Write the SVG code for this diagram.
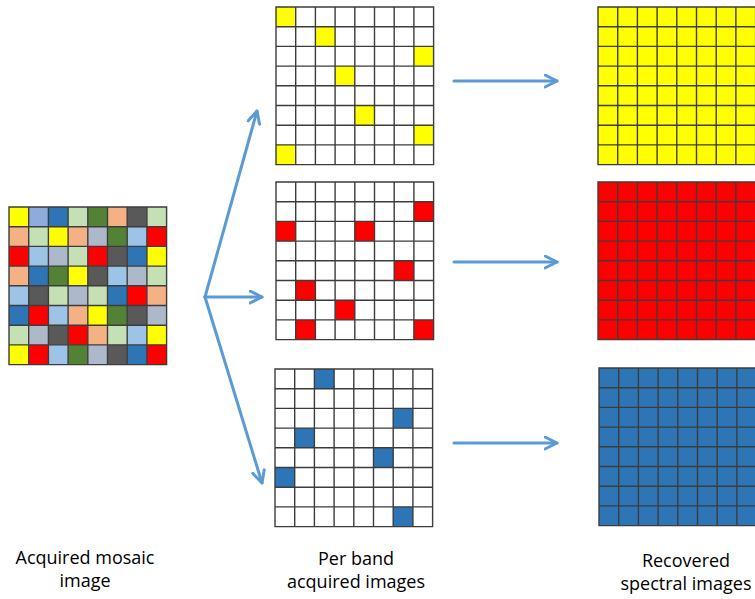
<svg xmlns="http://www.w3.org/2000/svg" xmlns:xlink="http://www.w3.org/1999/xlink" width="755" height="599" viewBox="0 0 755 599">
  <style>
    .grid { fill: none; stroke: #3c3c3c; stroke-width: 1.4; }
    .conn { fill: none; stroke: #5b9bd5; stroke-width: 3; stroke-linecap: round; }
    .label { font-family: "Open Sans", "Liberation Sans", sans-serif; font-size: 18px; fill: #000; text-anchor: middle; }
    .Y { fill: #ffff00; } .R { fill: #ff0000; } .B { fill: #2e75b6; }
    .G { fill: #548235; } .LG { fill: #c5e0b4; } .P { fill: #f4b183; }
    .D { fill: #595959; } .LB { fill: #9dc3e6; } .GB { fill: #adb9ca; } .L { fill: #8faadc; }
  </style>
  <defs>
    <!-- 8x8 grid lines, cell size 19.7 -->
    <path id="gridLines" class="grid" d="M0,0H157.6V157.6H0Z M19.7,0V157.6 M39.4,0V157.6 M59.1,0V157.6 M78.8,0V157.6 M98.5,0V157.6 M118.2,0V157.6 M137.9,0V157.6 M0,19.7H157.6 M0,39.4H157.6 M0,59.1H157.6 M0,78.8H157.6 M0,98.5H157.6 M0,118.2H157.6 M0,137.9H157.6"/>
    <rect id="c" width="19.7" height="19.7"/>
    <marker id="open" viewBox="0 0 10 10" refX="9" refY="5" markerWidth="5" markerHeight="5" orient="auto">
      <path d="M1,1 L9,5 L1,9" fill="none" stroke="#5b9bd5" stroke-width="2" stroke-linecap="round" stroke-linejoin="round"/>
    </marker>
  </defs>

  <!-- acquired mosaic image -->
  <g id="mosaic" transform="translate(9,207)">
    <use href="#c" class="Y" x="0" y="0"/><use href="#c" class="L" x="19.7" y="0"/><use href="#c" class="B" x="39.4" y="0"/><use href="#c" class="LG" x="59.1" y="0"/><use href="#c" class="G" x="78.8" y="0"/><use href="#c" class="P" x="98.5" y="0"/><use href="#c" class="D" x="118.2" y="0"/><use href="#c" class="LG" x="137.9" y="0"/>
    <use href="#c" class="P" x="0" y="19.7"/><use href="#c" class="LG" x="19.7" y="19.7"/><use href="#c" class="Y" x="39.4" y="19.7"/><use href="#c" class="P" x="59.1" y="19.7"/><use href="#c" class="GB" x="78.8" y="19.7"/><use href="#c" class="G" x="98.5" y="19.7"/><use href="#c" class="LB" x="118.2" y="19.7"/><use href="#c" class="R" x="137.9" y="19.7"/>
    <use href="#c" class="R" x="0" y="39.4"/><use href="#c" class="LB" x="19.7" y="39.4"/><use href="#c" class="GB" x="39.4" y="39.4"/><use href="#c" class="LG" x="59.1" y="39.4"/><use href="#c" class="R" x="78.8" y="39.4"/><use href="#c" class="D" x="98.5" y="39.4"/><use href="#c" class="B" x="118.2" y="39.4"/><use href="#c" class="Y" x="137.9" y="39.4"/>
    <use href="#c" class="P" x="0" y="59.1"/><use href="#c" class="B" x="19.7" y="59.1"/><use href="#c" class="G" x="39.4" y="59.1"/><use href="#c" class="Y" x="59.1" y="59.1"/><use href="#c" class="D" x="78.8" y="59.1"/><use href="#c" class="LB" x="98.5" y="59.1"/><use href="#c" class="GB" x="118.2" y="59.1"/><use href="#c" class="LG" x="137.9" y="59.1"/>
    <use href="#c" class="LB" x="0" y="78.8"/><use href="#c" class="D" x="19.7" y="78.8"/><use href="#c" class="LG" x="39.4" y="78.8"/><use href="#c" class="GB" x="59.1" y="78.8"/><use href="#c" class="LG" x="78.8" y="78.8"/><use href="#c" class="B" x="98.5" y="78.8"/><use href="#c" class="R" x="118.2" y="78.8"/><use href="#c" class="P" x="137.9" y="78.8"/>
    <use href="#c" class="B" x="0" y="98.5"/><use href="#c" class="R" x="19.7" y="98.5"/><use href="#c" class="LB" x="39.4" y="98.5"/><use href="#c" class="P" x="59.1" y="98.5"/><use href="#c" class="Y" x="78.8" y="98.5"/><use href="#c" class="G" x="98.5" y="98.5"/><use href="#c" class="D" x="118.2" y="98.5"/><use href="#c" class="GB" x="137.9" y="98.5"/>
    <use href="#c" class="LG" x="0" y="118.2"/><use href="#c" class="GB" x="19.7" y="118.2"/><use href="#c" class="D" x="39.4" y="118.2"/><use href="#c" class="R" x="59.1" y="118.2"/><use href="#c" class="P" x="78.8" y="118.2"/><use href="#c" class="LG" x="98.5" y="118.2"/><use href="#c" class="LB" x="118.2" y="118.2"/><use href="#c" class="Y" x="137.9" y="118.2"/>
    <use href="#c" class="Y" x="0" y="137.9"/><use href="#c" class="R" x="19.7" y="137.9"/><use href="#c" class="LB" x="39.4" y="137.9"/><use href="#c" class="G" x="59.1" y="137.9"/><use href="#c" class="GB" x="78.8" y="137.9"/><use href="#c" class="D" x="98.5" y="137.9"/><use href="#c" class="B" x="118.2" y="137.9"/><use href="#c" class="R" x="137.9" y="137.9"/>
    <use href="#gridLines"/>
  </g>

  <!-- per band acquired images -->
  <g id="band-yellow" transform="translate(276,7)">
    <rect width="157.6" height="157.6" fill="#fff"/>
    <use href="#c" class="Y" x="0" y="0"/><use href="#c" class="Y" x="39.4" y="19.7"/><use href="#c" class="Y" x="137.9" y="39.4"/><use href="#c" class="Y" x="59.1" y="59.1"/><use href="#c" class="Y" x="78.8" y="98.5"/><use href="#c" class="Y" x="137.9" y="118.2"/><use href="#c" class="Y" x="0" y="137.9"/>
    <use href="#gridLines"/>
  </g>
  <g id="band-red" transform="translate(276,182)">
    <rect width="157.6" height="157.6" fill="#fff"/>
    <use href="#c" class="R" x="137.9" y="19.7"/><use href="#c" class="R" x="0" y="39.4"/><use href="#c" class="R" x="78.8" y="39.4"/><use href="#c" class="R" x="118.2" y="78.8"/><use href="#c" class="R" x="19.7" y="98.5"/><use href="#c" class="R" x="59.1" y="118.2"/><use href="#c" class="R" x="19.7" y="137.9"/><use href="#c" class="R" x="137.9" y="137.9"/>
    <use href="#gridLines"/>
  </g>
  <g id="band-blue" transform="translate(275,369)">
    <rect width="157.6" height="157.6" fill="#fff"/>
    <use href="#c" class="B" x="39.4" y="0"/><use href="#c" class="B" x="118.2" y="39.4"/><use href="#c" class="B" x="19.7" y="59.1"/><use href="#c" class="B" x="98.5" y="78.8"/><use href="#c" class="B" x="0" y="98.5"/><use href="#c" class="B" x="118.2" y="137.9"/>
    <use href="#gridLines"/>
  </g>

  <!-- recovered spectral images -->
  <g id="spectral-yellow" transform="translate(598,7)">
    <rect width="157.6" height="157.6" class="Y"/>
    <use href="#gridLines"/>
  </g>
  <g id="spectral-red" transform="translate(598,182)">
    <rect width="157.6" height="157.6" class="R"/>
    <use href="#gridLines"/>
  </g>
  <g id="spectral-blue" transform="translate(599,368)">
    <rect width="157.6" height="157.6" class="B"/>
    <use href="#gridLines"/>
  </g>

  <!-- connectors -->
  <g id="connectors">
    <line class="conn" x1="205" y1="297" x2="257" y2="111" marker-end="url(#open)"/>
    <line class="conn" x1="205" y1="297" x2="262" y2="297" marker-end="url(#open)"/>
    <line class="conn" x1="205" y1="297" x2="262" y2="483" marker-end="url(#open)"/>
    <line class="conn" x1="454" y1="81" x2="557" y2="81" marker-end="url(#open)"/>
    <line class="conn" x1="454" y1="262" x2="557" y2="262" marker-end="url(#open)"/>
    <line class="conn" x1="454" y1="443" x2="557" y2="443" marker-end="url(#open)"/>
  </g>

  <!-- captions -->
  <g id="captions">
    <text class="label" x="85" y="564">Acquired mosaic</text>
    <text class="label" x="85" y="587">image</text>
    <text class="label" x="356" y="565">Per band</text>
    <text class="label" x="356" y="588">acquired images</text>
    <text class="label" x="686" y="567">Recovered</text>
    <text class="label" x="686" y="590">spectral images</text>
  </g>
</svg>
